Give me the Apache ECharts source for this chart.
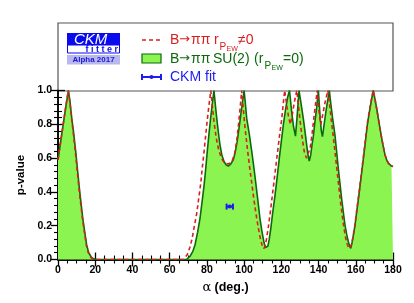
<!DOCTYPE html>
<html>
<head>
<meta charset="utf-8">
<script src="https://cdn.jsdelivr.net/npm/echarts@6/dist/echarts.min.js"></script>
<style>
html,body{margin:0;padding:0;background:#fff;}
#c{width:414px;height:303px;}
</style>
</head>
<body>
<div id="c"></div>
<script>
// B->pipi SU(2) (r_PEW = 0): alpha (deg) and p-value
var alphaSU2 = [0,1,2,3,4,5,5.6,6.5,7.4,8.5,9.5,10.4,11.3,12.3,13.3,14.4,15.4,16.5,18,19.5,21,
  69,70,71,72.5,73.6,75,76.3,77.4,78.5,79.4,80.2,81.1,82,82.9,83.8,84.5,85.3,86.2,87,88,89.2,90.3,91.5,92.8,94.2,95.3,96.3,97.3,98.2,99.1,100,
  100.7,101.4,102.8,104.1,105.3,106.4,107.5,108.5,109.6,110.7,111.5,112.1,112.8,113.5,114.3,115.4,116.6,117.8,118.9,120,121.1,122.3,123.4,124.4,
  125.5,126.5,127.6,128.5,129.5,130.5,131.8,132.7,133.6,134.3,135,135.8,136.5,137.2,138,139,139.9,140.8,141.5,142.1,143,144,145.8,
  146.5,147.5,148.8,149.7,150.6,151.5,152.4,153.3,154.2,155.1,156,156.7,157.3,158,158.8,159.6,160.7,161.9,163,164.1,165.2,166.2,167.4,168.6,169.4,
  170.3,171.2,172.1,173,173.9,174.8,175.7,176.6,177.5,178.4,179.2,180];
var pSU2 = [0.59,0.665,0.74,0.815,0.89,0.96,1.0,0.93,0.835,0.74,0.64,0.54,0.44,0.34,0.245,0.16,0.086,0.04,0.012,0.002,0,
  0,0.005,0.02,0.05,0.086,0.16,0.244,0.34,0.44,0.54,0.64,0.74,0.835,0.92,1.0,0.92,0.835,0.75,0.68,0.62,0.58,0.56,0.553,0.565,0.59,0.64,0.70,0.78,0.855,0.93,1.0,
  0.92,0.835,0.74,0.64,0.54,0.44,0.34,0.244,0.165,0.10,0.07,0.06,0.08,0.12,0.18,0.28,0.38,0.49,0.60,0.70,0.80,0.89,0.96,1.0,
  0.88,0.79,0.73,0.85,1.0,0.93,0.835,0.76,0.68,0.62,0.583,0.62,0.68,0.73,0.81,0.9,1.0,0.85,0.76,0.727,0.80,0.88,1.0,
  0.93,0.84,0.737,0.64,0.54,0.45,0.36,0.28,0.204,0.15,0.105,0.08,0.066,0.10,0.15,0.204,0.30,0.40,0.50,0.60,0.70,0.796,0.88,0.954,1.0,
  0.95,0.895,0.835,0.776,0.72,0.667,0.62,0.589,0.57,0.56,0.553,0.55];

// B->pipi r_PEW != 0
var alphaPEW = [0,2,4,5.5,6.4,7.3,8.3,9.3,10.2,11.1,12.1,13.1,14.2,15.2,16.3,17.8,19.5,
  67.5,68.5,69.5,70.8,72,73.3,74.5,75.6,76.7,77.6,78.5,79.4,80.3,81.2,82.1,83,84,85,86.3,87.8,89.5,91.5,93.5,95,96,97,97.9,98.7,
  99.5,100.3,101.5,102.8,104,105.2,106.4,107.6,108.8,109.8,110.6,111.3,112,113,114.2,115.4,116.6,117.8,119,120.2,121.1,121.8,
  122.8,123.8,124.8,125.8,126.8,128.3,129.3,130.3,131.3,132.3,133.5,134.5,135.5,136.5,137.5,138.5,139.3,140.2,141.2,142.3,143.5,145,
  145.8,146.8,148,149,150,150.9,151.8,152.7,153.6,154.5,155.4,156.3,157,157.8,158.6,159.5,160.6,161.8,162.9,164,165.1,166.1,167.3,168.5,169.4,
  170.3,171.2,172.1,173,173.9,174.8,175.7,176.6,177.5,178.4,179.2,180];
var pPEW = [0.59,0.74,0.89,1.0,0.93,0.835,0.74,0.64,0.54,0.44,0.34,0.245,0.16,0.086,0.04,0.01,0,
  0,0.01,0.03,0.07,0.12,0.2,0.27,0.36,0.45,0.55,0.64,0.74,0.835,0.92,1.0,0.9,0.8,0.72,0.65,0.6,0.57,0.565,0.58,0.63,0.7,0.8,0.9,1.0,
  0.9,0.8,0.68,0.56,0.46,0.36,0.27,0.19,0.12,0.08,0.065,0.08,0.12,0.19,0.29,0.4,0.51,0.62,0.73,0.83,0.93,1.0,
  0.92,0.85,0.8,0.85,0.92,1.0,0.9,0.8,0.71,0.64,0.6,0.61,0.66,0.74,0.84,0.93,1.0,0.88,0.8,0.86,0.93,1.0,
  0.93,0.83,0.72,0.62,0.52,0.43,0.34,0.26,0.19,0.13,0.09,0.065,0.06,0.09,0.14,0.2,0.3,0.4,0.5,0.6,0.7,0.796,0.88,0.954,1.0,
  0.95,0.895,0.835,0.776,0.72,0.667,0.62,0.589,0.57,0.56,0.553,0.55];

// CKM fit
var ckmAlpha = [92.3];
var ckmLow = [90.6];
var ckmHigh = [94.0];
var ckmP = [0.313];

var xTicks = [0,20,40,60,80,100,120,140,160,180];
var yTicks = [0.0,0.2,0.4,0.6,0.8,1.0];

function pairs(a,b){var r=[];for(var i=0;i<a.length;i++)r.push([a[i],b[i]]);return r;}

var chart = echarts.init(document.getElementById('c'), null, {renderer:'canvas'});
var FONT = '"Liberation Sans", Arial, Helvetica, sans-serif';
var ARFONT = '"DejaVu Sans", sans-serif';
var RED = '#d81e1e', DGREEN = '#0b6a0b', FILL = '#8cf450', BLUE = '#1c1cf0';

var lineAx = {show:true, lineStyle:{color:'#000', width:1.5}};
var tickAx = {show:true, inside:true, length:7, lineStyle:{color:'#000', width:1.3}};
function minor(n){return {show:true, splitNumber:n, length:4, lineStyle:{color:'#000', width:1.1}};}
function txt(t, x, y, color, size, fam){
  return {type:'text', style:{text:t, x:x, y:y, fill:color, font:size+'px '+(fam||FONT), textVerticalAlign:'middle'}};
}

var option = {
  animation:false,
  backgroundColor:'#fff',
  grid:{left:58, right:21, top:90.5, bottom:43.5, containLabel:false},
  xAxis:[
    {type:'value', min:0, max:180, interval:20, position:'bottom',
      axisLine:lineAx, axisTick:tickAx, minorTick:minor(4), splitLine:{show:false},
      axisLabel:{show:true, color:'#000', fontFamily:FONT, fontWeight:'bold', fontSize:10.5, margin:5,
        formatter:function(v){return xTicks.indexOf(v)>=0 ? String(v) : '';}},
      name:'{a|α} {b|(deg.)}', nameLocation:'middle', nameGap:22,
      nameTextStyle:{rich:{a:{fontFamily:'"DejaVu Serif", serif', fontSize:13, color:'#000'},
                           b:{fontFamily:FONT, fontWeight:'bold', fontSize:12.5, color:'#000'}}}},
    {type:'value', min:0, max:180, interval:20, position:'top',
      axisLine:lineAx, axisTick:tickAx, minorTick:minor(4),
      axisLabel:{show:false}, splitLine:{show:false}}
  ],
  yAxis:[
    {type:'value', min:0, max:1, interval:0.2, position:'left',
      axisLine:lineAx, axisTick:tickAx, minorTick:minor(5), splitLine:{show:false},
      axisLabel:{show:true, color:'#000', fontFamily:FONT, fontWeight:'bold', fontSize:10.5, margin:6,
        formatter:function(v){return v.toFixed(1);}},
      name:'p-value', nameLocation:'middle', nameGap:31, nameRotate:90,
      nameTextStyle:{fontFamily:FONT, fontWeight:'bold', fontSize:11.5, color:'#000'}},
    {type:'value', min:0, max:1, interval:0.2, position:'right',
      axisLine:lineAx, axisTick:tickAx, minorTick:minor(5),
      splitLine:{show:false}, axisLabel:{show:false}}
  ],
  series:[
    {type:'line', name:'SU2', data:pairs(alphaSU2,pSU2), showSymbol:false, symbol:'none',
      lineStyle:{color:DGREEN, width:1.6}, areaStyle:{color:FILL, opacity:1, origin:'start'}, z:2, clip:true},
    {type:'line', name:'PEW', data:pairs(alphaPEW,pPEW), showSymbol:false, symbol:'none',
      lineStyle:{color:RED, width:1.6, type:[4,3]}, z:3, clip:true},
    {type:'custom', name:'CKM fit', z:5,
      data:ckmAlpha.map(function(a,i){return [a, ckmP[i], ckmLow[i], ckmHigh[i]];}),
      renderItem:function(params, api){
        var c = api.coord([api.value(0), api.value(1)]);
        var l = api.coord([api.value(2), api.value(1)]);
        var h = api.coord([api.value(3), api.value(1)]);
        var st = {stroke:BLUE, lineWidth:2};
        return {type:'group', children:[
          {type:'line', shape:{x1:l[0], y1:c[1], x2:h[0], y2:c[1]}, style:st},
          {type:'line', shape:{x1:l[0], y1:c[1]-3, x2:l[0], y2:c[1]+3}, style:st},
          {type:'line', shape:{x1:h[0], y1:c[1]-3, x2:h[0], y2:c[1]+3}, style:st},
          {type:'circle', shape:{cx:c[0], cy:c[1], r:2}, style:{fill:BLUE}}
        ]};
      }}
  ],
  graphic:[
    // legend frame
    {type:'rect', shape:{x:58, y:23, width:335, height:68}, style:{fill:'#fff', stroke:'#555', lineWidth:1.2}, z:-1},
    // logo
    {type:'rect', shape:{x:67, y:33, width:53, height:12}, style:{fill:'#0a0aee'}},
    {type:'text', style:{text:'CKM', x:74, y:39.5, fill:'#fff', font:'italic 15px '+FONT, textVerticalAlign:'middle'}},
    {type:'rect', shape:{x:67.5, y:45, width:52, height:8}, style:{fill:'#fff', stroke:'#0a0aee', lineWidth:1}},
    {type:'text', style:{text:'f i t t e r', x:118, y:49.5, fill:'#0a0aee', font:'bold 9px '+FONT, textAlign:'right', textVerticalAlign:'middle'}},
    {type:'rect', shape:{x:67, y:55, width:53, height:9.5}, style:{fill:'#b8b8ee'}},
    {type:'text', style:{text:'Alpha 2017', x:93.5, y:60, fill:'#1a1ad0', font:'bold 8px '+FONT, textAlign:'center', textVerticalAlign:'middle'}},
    // legend entry 1
    {type:'line', shape:{x1:142, y1:40, x2:161, y2:40}, style:{stroke:RED, lineWidth:1.6, lineDash:[4,3]}},
    txt('B', 170, 40, RED, 14),
    txt('→', 179, 40, RED, 13, ARFONT),
    txt('ππ', 191, 40, RED, 14),
    txt('r', 214, 40, RED, 14),
    txt('P', 219.5, 47, RED, 10),
    txt('EW', 226.5, 49.5, RED, 7),
    txt('≠0', 238, 40, RED, 14),
    // legend entry 2
    {type:'rect', shape:{x:142, y:54, width:19, height:9}, style:{fill:FILL, stroke:DGREEN, lineWidth:1.2}},
    txt('B', 170, 59, DGREEN, 14),
    txt('→', 179, 59, DGREEN, 13, ARFONT),
    txt('ππ', 191, 59, DGREEN, 14),
    txt('SU(2)', 213, 59, DGREEN, 14),
    txt('(r', 254, 59, DGREEN, 14),
    txt('P', 264.5, 66, DGREEN, 10),
    txt('EW', 271.5, 68.5, DGREEN, 7),
    txt('=0)', 283, 59, DGREEN, 14),
    // legend entry 3
    {type:'line', shape:{x1:142, y1:77, x2:161, y2:77}, style:{stroke:BLUE, lineWidth:2}},
    {type:'line', shape:{x1:142, y1:74, x2:142, y2:80}, style:{stroke:BLUE, lineWidth:2}},
    {type:'line', shape:{x1:161, y1:74, x2:161, y2:80}, style:{stroke:BLUE, lineWidth:2}},
    {type:'circle', shape:{cx:151.5, cy:77, r:2}, style:{fill:BLUE}},
    txt('CKM fit', 170, 77, BLUE, 14)
  ]
};
chart.setOption(option);
</script>
</body>
</html>
